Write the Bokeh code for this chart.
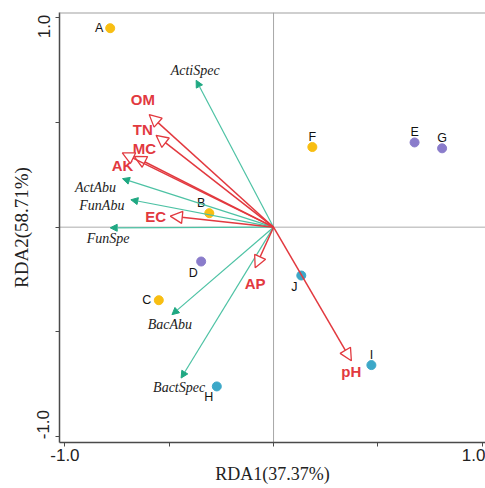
from bokeh.plotting import figure
from bokeh.models import (ColumnDataSource, Arrow, NormalHead, Span, FixedTicker)
from bokeh.core.properties import value
from bokeh.embed import file_html
from bokeh.resources import INLINE

# Samples
sample_names = ["A", "B", "C", "D", "E", "F", "G", "H", "I", "J"]
sample_x = [-0.783, -0.308, -0.550, -0.347, 0.676, 0.186, 0.808, -0.272, 0.469, 0.133]
sample_y = [0.951, 0.067, -0.349, -0.164, 0.405, 0.383, 0.377, -0.761, -0.659, -0.231]
sample_group = ["y", "y", "y", "p", "p", "y", "p", "t", "t", "t"]

# Environmental factors (red arrows)
env_names = ["OM", "TN", "MC", "AK", "EC", "AP", "pH"]
env_x = [-0.596, -0.563, -0.668, -0.725, -0.495, -0.088, 0.373]
env_y = [0.538, 0.439, 0.338, 0.355, 0.053, -0.194, -0.638]

# Microbial indices (green arrows)
spe_names = ["ActiSpec", "ActAbu", "FunAbu", "FunSpe", "BacAbu", "BactSpec"]
spe_x = [-0.371, -0.724, -0.684, -0.783, -0.487, -0.443]
spe_y = [0.702, 0.232, 0.131, -0.003, -0.418, -0.721]

# Axis
x_ticks = [-1.0, -0.5, 0.0, 0.5, 1.0]
y_ticks = [-1.0, -0.5, 0.0, 0.5, 1.0]
x_tick_labels = {-1.0: "-1.0", 1.0: "1.0"}
y_tick_labels = {-1.0: "-1.0", 1.0: "1.0"}
x_title = "RDA1(37.37%)"
y_title = "RDA2(58.71%)"

group_colors = {"y": "#F8BE12", "p": "#8A7CCB", "t": "#3CA8C8"}
red = "#E2393F"
green = "#1FA882"
green_line = "#4DC2A4"
NB = "\u00a0"

p = figure(width=485, height=488, x_range=(-1.026, 1.016), y_range=(-1.029, 1.026),
           output_backend="svg", toolbar_location=None,
           min_border_left=59, min_border_top=12, min_border_right=0, min_border_bottom=46)
p.grid.visible = False
p.outline_line_color = None
p.background_fill_color = "white"

# zero lines and top border
p.add_layout(Span(location=0, dimension="height", line_color="#A8A8A8", line_width=1, level="underlay"))
p.add_layout(Span(location=0, dimension="width", line_color="#C8C8C8", line_width=1.5, level="underlay"))
p.add_layout(Span(location=1.026, dimension="width", line_color="#A0A0A0", line_width=2))

for ax, ticks in ((p.xaxis[0], x_ticks), (p.yaxis[0], y_ticks)):
    ax.ticker = FixedTicker(ticks=ticks)
    ax.minor_tick_line_color = None
    ax.major_tick_in = 0
    ax.major_tick_out = 4
    ax.axis_line_color = "#4A4A4A"
    ax.axis_line_width = 1.5
    ax.major_tick_line_color = "#4A4A4A"
    ax.major_label_text_font = "Liberation Sans"
    ax.major_label_text_font_size = "17px"
    ax.major_label_text_color = "#222222"
    ax.major_label_standoff = 2
    ax.axis_label_text_font = "Liberation Serif"
    ax.axis_label_text_font_style = "normal"
    ax.axis_label_text_font_size = "18px"
    ax.axis_label_text_color = "#222222"
    ax.axis_label_standoff = 0
p.yaxis[0].axis_label_text_font_size = "19px"

# tick labels: only the ends are labelled
p.xaxis[0].major_label_overrides = {t: x_tick_labels.get(t, "") for t in x_ticks}
p.yaxis[0].major_label_overrides = {t: ({-1.0: NB * 5 + y_tick_labels[-1.0],
                                          1.0: y_tick_labels[1.0] + NB * 3}.get(t, "")) for t in y_ticks}

p.xaxis.axis_label = x_title
p.yaxis.axis_label = y_title
p.yaxis.major_label_orientation = "vertical"

# label offsets (screen px)
lab_dx = {"A": -11, "B": -8, "C": -12, "D": -8, "E": 0, "F": 0, "G": 0, "H": -8, "I": 0, "J": -7}
lab_dy = {"A": 0, "B": -10, "C": 0, "D": 11, "E": -10, "F": -10, "G": -10, "H": 11, "I": -10, "J": 11}
env_lx = {"OM": -6.3, "TN": -13.3, "MC": 10.3, "AK": 0.3, "EC": -14.7, "AP": 0, "pH": 0}
env_ly = {"OM": -15, "TN": -6.3, "MC": -8.3, "AK": 13, "EC": 0.3, "AP": 15.4, "pH": 11}
spe_lx = {"ActiSpec": -1, "ActAbu": -27, "FunAbu": -29, "FunSpe": -2, "BacAbu": -2, "BactSpec": -2}
spe_ly = {"ActiSpec": -10, "ActAbu": 8.4, "FunAbu": 5.7, "FunSpe": 10.4, "BacAbu": 10, "BactSpec": 9.4}

# green arrows
spe_src = ColumnDataSource(dict(x=spe_x, y=spe_y, name=spe_names,
                                dx=[spe_lx[n] for n in spe_names], dy=[spe_ly[n] for n in spe_names]))
p.add_layout(Arrow(x_start=0, y_start=0, x_end="x", y_end="y", source=spe_src,
                   line_color=green_line, line_width=1.2,
                   end=NormalHead(size=7, fill_color=green, line_color=green, line_width=1)))

# red arrows
env_src = ColumnDataSource(dict(x=env_x, y=env_y, name=env_names,
                                dx=[env_lx[n] for n in env_names], dy=[env_ly[n] for n in env_names]))
p.add_layout(Arrow(x_start=0, y_start=0, x_end="x", y_end="y", source=env_src,
                   line_color=red, line_width=1.5,
                   end=NormalHead(size=12, fill_color="white", line_color=red, line_width=1.3)))

# samples
src = ColumnDataSource(dict(x=sample_x, y=sample_y, name=sample_names,
                            color=[group_colors[g] for g in sample_group],
                            dx=[lab_dx[n] for n in sample_names], dy=[lab_dy[n] for n in sample_names]))
p.scatter("x", "y", source=src, size=9, fill_color="color", line_color="color")

p.text("x", "y", text="name", source=src, x_offset="dx", y_offset="dy",
       text_font=value("Liberation Sans"), text_font_size="12.5px", text_color="#111111",
       text_align="center", text_baseline="middle")

p.text("x", "y", text="name", source=env_src, x_offset="dx", y_offset="dy",
       text_font=value("Liberation Sans"), text_font_style="bold", text_font_size="15px",
       text_color=red, text_align="center", text_baseline="middle")

p.text("x", "y", text="name", source=spe_src, x_offset="dx", y_offset="dy",
       text_font=value("Liberation Serif"), text_font_style="italic", text_font_size="14px",
       text_color="#222222", text_align="center", text_baseline="middle")

open("out.html", "w").write(file_html(p, INLINE))
